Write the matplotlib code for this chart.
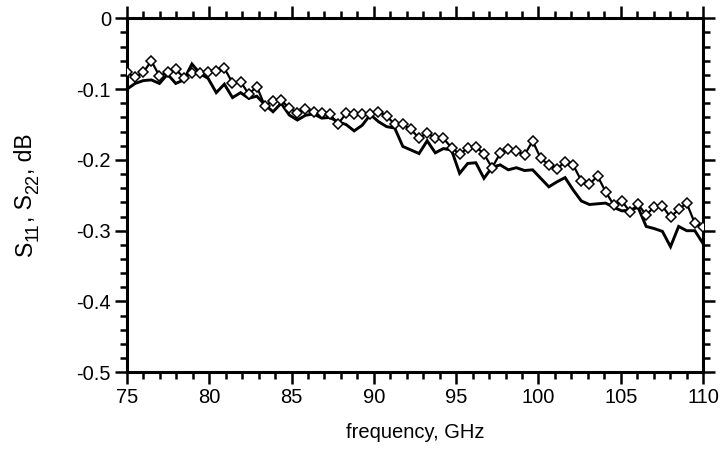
import numpy as np
import matplotlib
matplotlib.use("Agg")
import matplotlib.pyplot as plt
from matplotlib.ticker import MultipleLocator

plt.rcParams['font.family'] = ['Liberation Sans', 'DejaVu Sans']

# Frequency sweep, GHz (72 points from 75 to 110)
freq = np.linspace(75.0, 110.0, 72)

# Reflection with diamond markers, dB
s_marked = [
    -0.0763, -0.0833, -0.0763, -0.0603, -0.0815, -0.0763, -0.0720, -0.0839,
    -0.0777, -0.0777, -0.0754, -0.0740, -0.0706, -0.0910, -0.0895, -0.1070,
    -0.0966, -0.1239, -0.1165, -0.1154, -0.1271, -0.1333, -0.1285, -0.1319,
    -0.1333, -0.1352, -0.1497, -0.1342, -0.1356, -0.1356, -0.1356, -0.1319,
    -0.1380, -0.1497, -0.1497, -0.1568, -0.1695, -0.1616, -0.1695, -0.1695,
    -0.1828, -0.1917, -0.1836, -0.1812, -0.1917, -0.2110, -0.1907, -0.1850,
    -0.1874, -0.1931, -0.1733, -0.1977, -0.2072, -0.2129, -0.2025, -0.2072,
    -0.2294, -0.2345, -0.2227, -0.2449, -0.2637, -0.2580, -0.2732, -0.2627,
    -0.2778, -0.2661, -0.2651, -0.2811, -0.2698, -0.2613, -0.2895, -0.2943,
]

# Reflection drawn as a plain line, dB
s_plain = [
    -0.1000, -0.0920, -0.0880, -0.0870, -0.0920, -0.0790, -0.0920, -0.0870,
    -0.0645, -0.0780, -0.0850, -0.1050, -0.0930, -0.1120, -0.1050, -0.1130,
    -0.1100, -0.1220, -0.1320, -0.1200, -0.1366, -0.1437, -0.1370, -0.1350,
    -0.1410, -0.1400, -0.1460, -0.1500, -0.1590, -0.1510, -0.1360, -0.1460,
    -0.1530, -0.1550, -0.1810, -0.1860, -0.1910, -0.1730, -0.1900, -0.1840,
    -0.1860, -0.2190, -0.2050, -0.2040, -0.2260, -0.2105, -0.2070, -0.2140,
    -0.2110, -0.2150, -0.2140, -0.2260, -0.2380, -0.2310, -0.2250, -0.2425,
    -0.2580, -0.2630, -0.2620, -0.2610, -0.2670, -0.2720, -0.2710, -0.2670,
    -0.2940, -0.2970, -0.3010, -0.3226, -0.2940, -0.3000, -0.3000, -0.3180,
]

x_ticks = [75, 80, 85, 90, 95, 100, 105, 110]
y_ticks = [0, -0.1, -0.2, -0.3, -0.4, -0.5]
y_tick_labels = ['0', '-0.1', '-0.2', '-0.3', '-0.4', '-0.5']

# y-axis title, split into normal runs and subscript runs
ylabel_runs = [("S", False), ("11", True), (", S", False), ("22", True), (", dB", False)]

W, H = 723, 459
fig = plt.figure(figsize=(W / 100, H / 100), dpi=100)
ax = fig.add_axes([0.1757, 0.1889, 0.7966, 0.7712])

ax.plot(freq, s_plain, color='black', lw=2.1, solid_joinstyle='miter', zorder=2)
ax.plot(freq, s_marked, color='black', lw=1.6, marker='D', markersize=5.2,
        markerfacecolor='white', markeredgecolor='black', markeredgewidth=1.1,
        zorder=3)

ax.set_xlim(75, 110)
ax.set_ylim(-0.5, 0)
ax.set_xticks(x_ticks)
ax.set_xticklabels([str(t) for t in x_ticks])
ax.set_yticks(y_ticks)
ax.set_yticklabels(y_tick_labels)
ax.xaxis.set_minor_locator(MultipleLocator(1))
ax.yaxis.set_minor_locator(MultipleLocator(0.02))

for side in ax.spines.values():
    side.set_linewidth(2.2)

ax.tick_params(which='both', direction='out', top=True, right=True,
               labeltop=False, labelright=False, width=1.8)
ax.tick_params(which='major', length=8.6, labelsize=14.5, pad=3)
ax.tick_params(which='minor', length=5)

ax.set_xlabel('frequency, GHz', fontsize=14.5)
ax.xaxis.set_label_coords(0.5, -0.143)

# Vertical y title assembled run by run so the subscripts can be sized freely
renderer = fig.canvas.get_renderer()
main_size, sub_size = 16.5, 13.0
base_x = 32.0 / W          # baseline of the normal runs (pixels from left)
sub_shift = 6.0 / W        # subscripts sit lower, i.e. further right when rotated
pieces = []
for txt, is_sub in ylabel_runs:
    t = fig.text(0, 0, txt, rotation=90, rotation_mode='anchor',
                 ha='left', va='baseline',
                 fontsize=sub_size if is_sub else main_size)
    pieces.append((t, is_sub))
lengths = [t.get_window_extent(renderer).height for t, _ in pieces]
total = sum(lengths)
y_center = 1 - 195.0 / H
y = y_center * H - total / 2
for (t, is_sub), L in zip(pieces, lengths):
    t.set_position((base_x + (sub_shift if is_sub else 0), y / H))
    y += L

fig.savefig('out.png', dpi=100)
